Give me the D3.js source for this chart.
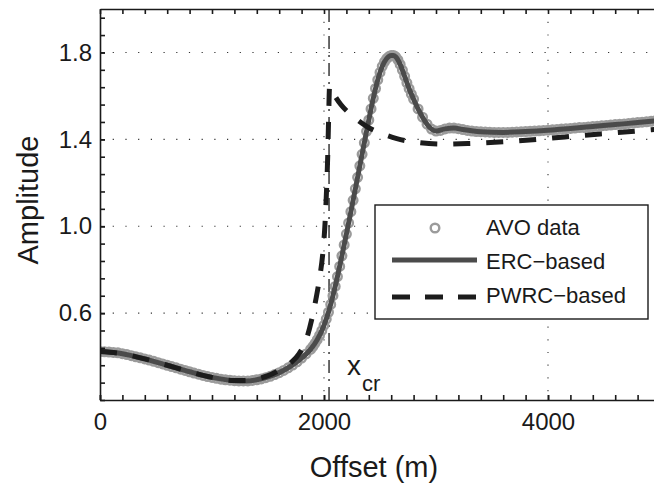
<!DOCTYPE html>
<html lang="en">
<head>
<meta charset="utf-8">
<title>AVO amplitude vs offset</title>
<style>
  body { margin: 0; background: #fff; }
  svg text { font-family: "Liberation Sans", Arial, Helvetica, sans-serif; fill: #1a1a1a; }
  .axis path, .axis line { stroke: #1a1a1a; stroke-width: 1.6; }
  .axis text { font-size: 24px; }
  .grid line { stroke: #333; stroke-width: 1.1; stroke-dasharray: 1.2 11.5; }
</style>
<script src="https://cdn.jsdelivr.net/npm/d3@7"></script>
</head>
<body>
<svg id="chart" width="654" height="485"></svg>
<script>

// ---- data ----
// AVO data: 40 m spacing on the flat parts, 20 m across the steep part
var avoOffset = [].concat(d3.range(0, 1900, 40), d3.range(1900, 2820, 20), d3.range(2840, 5000, 40));
var avoAmp = [
  0.423,0.422,0.421,0.419,0.417,0.413,0.409,0.404,0.399,0.394,
  0.389,0.384,0.378,0.372,0.366,0.360,0.354,0.348,0.342,0.336,
  0.330,0.324,0.319,0.313,0.308,0.304,0.300,0.296,0.293,0.291,
  0.289,0.288,0.288,0.288,0.290,0.293,0.297,0.303,0.309,0.317,
  0.326,0.336,0.348,0.361,0.376,0.393,0.412,0.433,
  // 1900 .. 2800 step 20
  0.446,0.461,0.478,0.497,0.519,0.544,0.572,0.604,0.640,0.680,
  0.723,0.768,0.815,0.864,0.914,0.964,1.015,1.067,1.119,1.172,
  1.225,1.278,1.331,1.384,1.437,1.489,1.540,1.589,1.634,1.674,
  1.708,1.736,1.757,1.772,1.781,1.786,1.786,1.780,1.766,1.745,
  1.719,1.690,1.660,1.633,1.608,1.585,
  // 2840 .. 4960 step 40
  1.540,1.502,1.470,1.447,1.438,1.441,1.448,1.452,1.452,1.449,
  1.445,1.441,1.438,1.436,1.435,1.434,1.433,1.432,1.432,1.432,
  1.432,1.433,1.434,1.435,1.436,1.437,1.438,1.439,1.441,1.442,
  1.444,1.445,1.447,1.449,1.450,1.452,1.454,1.455,1.457,1.459,
  1.460,1.462,1.464,1.466,1.468,1.469,1.471,1.473,1.475,1.477,
  1.479,1.481,1.483,1.485
];

var ercOffset = [0,200,400,600,800,1000,1200,1300,1400,1500,1600,1700,1800,1880,1940,2000,2040,2080,2120,2160,2200,
  2240,2280,2320,2360,2400,2440,2480,2520,2560,2600,2620,2640,2680,2720,2760,2800,2840,2880,2920,2960,3000,
  3080,3160,3240,3400,3600,3800,4000,4200,4400,4600,4800,5000];
var ercAmp = [0.423,0.413,0.389,0.360,0.330,0.304,0.289,0.288,0.293,0.306,0.326,0.355,0.393,0.433,0.478,0.544,0.604,0.680,0.768,0.864,0.964,
  1.067,1.172,1.278,1.384,1.489,1.589,1.674,1.736,1.772,1.786,1.786,1.780,1.745,1.690,1.633,1.585,1.540,1.502,1.470,1.447,1.438,
  1.448,1.452,1.445,1.435,1.432,1.436,1.442,1.450,1.459,1.468,1.477,1.487];

var pwrcOffset = [0,200,400,600,800,1000,1200,1300,1400,1500,1600,1700,1780,1840,1890,1930,1960,1990,2010,2023,2033,2041,2050,
  2080,2150,2250,2380,2515,2650,2800,3050,3300,3700,4000,4300,4600,4900,5000];
var pwrcAmp = [0.423,0.413,0.389,0.360,0.330,0.304,0.290,0.290,0.297,0.312,0.337,0.370,0.415,0.475,0.57,0.67,0.76,0.88,1.02,1.17,1.32,1.49,1.645,
  1.615,1.56,1.51,1.46,1.427,1.403,1.388,1.378,1.381,1.392,1.404,1.418,1.43,1.443,1.447];

var xcr = 2045;                       // critical offset
var xMajor = [0, 2000, 4000];
var yMajor = [0.6, 1.0, 1.4, 1.8];
var legendLabels = ["AVO data", "ERC\u2212based", "PWRC\u2212based"];

// ---- layout ----
var margin = {top: 9, left: 100},
    width = 560, height = 391;

var x = d3.scaleLinear().domain([0, 5000]).range([0, width]);
var y = d3.scaleLinear().domain([0.2, 2.0]).range([height, 0]);

var svg = d3.select("#chart");
var g = svg.append("g").attr("transform", "translate(" + margin.left + "," + margin.top + ")");

g.append("clipPath").attr("id", "clip")
  .append("rect").attr("width", width).attr("height", height);

// dotted grid
var grid = g.append("g").attr("class", "grid");
grid.selectAll(".gx").data([2000, 4000]).enter().append("line")
  .attr("x1", d => x(d)).attr("x2", d => x(d)).attr("y1", 0).attr("y2", height);
grid.selectAll(".gy").data(yMajor).enter().append("line")
  .attr("x1", 0).attr("x2", width).attr("y1", d => y(d)).attr("y2", d => y(d));

// critical offset marker (dash-dot)
g.append("line")
  .attr("x1", x(xcr)).attr("x2", x(xcr)).attr("y1", 0).attr("y2", height)
  .attr("stroke", "#2a2a2a").attr("stroke-width", 1.4)
  .attr("stroke-dasharray", "13,6,2,6");

var plot = g.append("g").attr("clip-path", "url(#clip)");

// AVO data circles
plot.selectAll("circle.avo")
  .data(avoOffset.map((o, i) => ({o: o, a: avoAmp[i]})))
  .enter().append("circle")
  .attr("class", "avo")
  .attr("cx", d => x(d.o)).attr("cy", d => y(d.a)).attr("r", 4.3)
  .attr("fill", "none").attr("stroke", "#9b9b9b").attr("stroke-width", 2.4);

var line = d3.line()
  .x(d => x(d[0])).y(d => y(d[1]))
  .curve(d3.curveMonotoneX);

plot.append("path")
  .attr("d", line(d3.zip(ercOffset, ercAmp)))
  .attr("fill", "none").attr("stroke", "#4b4b4b").attr("stroke-width", 5);

plot.append("path")
  .attr("d", line(d3.zip(pwrcOffset, pwrcAmp)))
  .attr("fill", "none").attr("stroke", "#1c1c1c").attr("stroke-width", 5)
  .attr("stroke-dasharray", "17,16");

// axes, ticks pointing inward
var xMinor = d3.range(0, 5001, 200);
var yMinor = d3.range(0, 23).map(k => 0.2 + 0.08 * k);

g.append("g").attr("class", "axis")
  .attr("transform", "translate(0," + height + ")")
  .call(d3.axisBottom(x).tickValues(xMinor).tickSize(-5).tickSizeOuter(0).tickFormat(""));
g.append("g").attr("class", "axis")
  .attr("transform", "translate(0," + height + ")")
  .call(d3.axisBottom(x).tickValues(xMajor).tickSize(-5).tickSizeOuter(0).tickPadding(13).tickFormat(d3.format("d")))
  .call(s => s.select(".domain").remove());
g.append("g").attr("class", "axis")
  .call(d3.axisTop(x).tickValues(xMinor).tickSize(-5).tickSizeOuter(0).tickFormat(""));
g.append("g").attr("class", "axis")
  .call(d3.axisLeft(y).tickValues(yMinor).tickSize(-5).tickSizeOuter(0).tickFormat(""));
g.append("g").attr("class", "axis")
  .call(d3.axisLeft(y).tickValues(yMajor).tickSize(-5).tickSizeOuter(0).tickPadding(8).tickFormat(d3.format(".1f")))
  .call(s => s.select(".domain").remove());
g.selectAll(".axis text").attr("fill", "#1a1a1a");

// x_cr label
var xl = svg.append("text").attr("x", 347).attr("y", 375).style("font-size", "28px").text("x");
xl.append("tspan").attr("dx", 1).attr("dy", 16).style("font-size", "22px").text("cr");

// axis titles
svg.append("text")
  .attr("x", 374).attr("y", 477)
  .attr("text-anchor", "middle").style("font-size", "29px")
  .text("Offset (m)");
svg.append("text")
  .attr("transform", "translate(38,200) rotate(-90)")
  .attr("text-anchor", "middle").style("font-size", "29px")
  .text("Amplitude");

// legend
var lg = svg.append("g").attr("transform", "translate(375,205)");
lg.append("rect").attr("width", 273).attr("height", 114)
  .attr("fill", "#fff").attr("stroke", "#1a1a1a").attr("stroke-width", 1.4);
lg.append("circle").attr("cx", 60).attr("cy", 23).attr("r", 4.3)
  .attr("fill", "none").attr("stroke", "#9b9b9b").attr("stroke-width", 2.4);
lg.append("line").attr("x1", 17).attr("x2", 102).attr("y1", 55).attr("y2", 55)
  .attr("stroke", "#4b4b4b").attr("stroke-width", 5);
lg.append("line").attr("x1", 17).attr("x2", 102).attr("y1", 92).attr("y2", 92)
  .attr("stroke", "#1c1c1c").attr("stroke-width", 5).attr("stroke-dasharray", "18,15");
lg.selectAll("text.lab").data(legendLabels).enter().append("text")
  .attr("class", "lab")
  .attr("x", 111).attr("y", (d, i) => 30 + i * 34)
  .style("font-size", "22px")
  .text(d => d);

</script>
</body>
</html>
